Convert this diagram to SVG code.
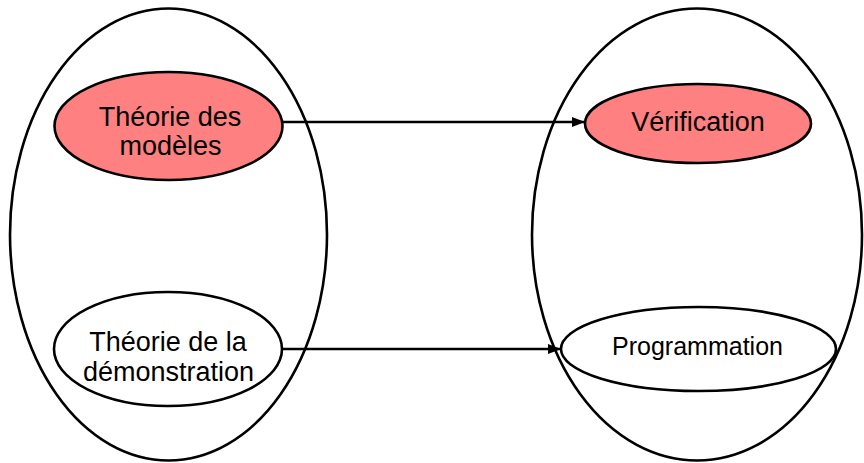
<svg xmlns="http://www.w3.org/2000/svg" width="864" height="463" viewBox="0 0 864 463">
  <style>
    .group { fill: none; stroke: #000; stroke-width: 2.6; }
    .node { stroke: #000; stroke-width: 2.6; }
    .hot { fill: #ff8080; }
    .plain { fill: #fff; }
    .label { font-family: "Liberation Sans", Arial, sans-serif; font-size: 27px; fill: #000; text-anchor: middle; }
    .small { font-size: 25px; }
    .edge { stroke: #000; stroke-width: 2.6; fill: none; marker-end: url(#tip); }
  </style>
  <defs>
    <marker id="tip" viewBox="0 0 13 10" refX="13" refY="5" markerWidth="13" markerHeight="10" markerUnits="userSpaceOnUse" orient="auto">
      <path d="M0,0 L13,5 L0,10 Z" fill="#000"/>
    </marker>
  </defs>

  <!-- enclosing domains -->
  <g id="domain-left">
    <ellipse class="group" cx="168.5" cy="234.5" rx="158.5" ry="226"/>
  </g>
  <g id="domain-right">
    <ellipse class="group" cx="697" cy="234.5" rx="165" ry="226"/>
  </g>

  <!-- connectors -->
  <g id="connectors">
    <line class="edge" x1="283" y1="122" x2="585" y2="122"/>
    <line class="edge" x1="282" y1="349" x2="561" y2="349"/>
  </g>

  <g id="theorie-modeles">
    <ellipse class="node hot" cx="168.5" cy="126" rx="114" ry="54"/>
    <text class="label" x="170" y="126">Théorie des</text>
    <text class="label" x="170.5" y="155">modèles</text>
  </g>

  <g id="theorie-demonstration">
    <ellipse class="node plain" cx="168" cy="349" rx="114" ry="57"/>
    <text class="label" x="168" y="351">Théorie de la</text>
    <text class="label" x="168.5" y="381">démonstration</text>
  </g>

  <g id="verification">
    <ellipse class="node hot" cx="698" cy="123.5" rx="113" ry="39.5"/>
    <text class="label" x="698" y="131">Vérification</text>
  </g>

  <g id="programmation">
    <ellipse class="node plain" cx="698.5" cy="349" rx="137.5" ry="42"/>
    <text class="label small" x="697.5" y="355">Programmation</text>
  </g>
</svg>
